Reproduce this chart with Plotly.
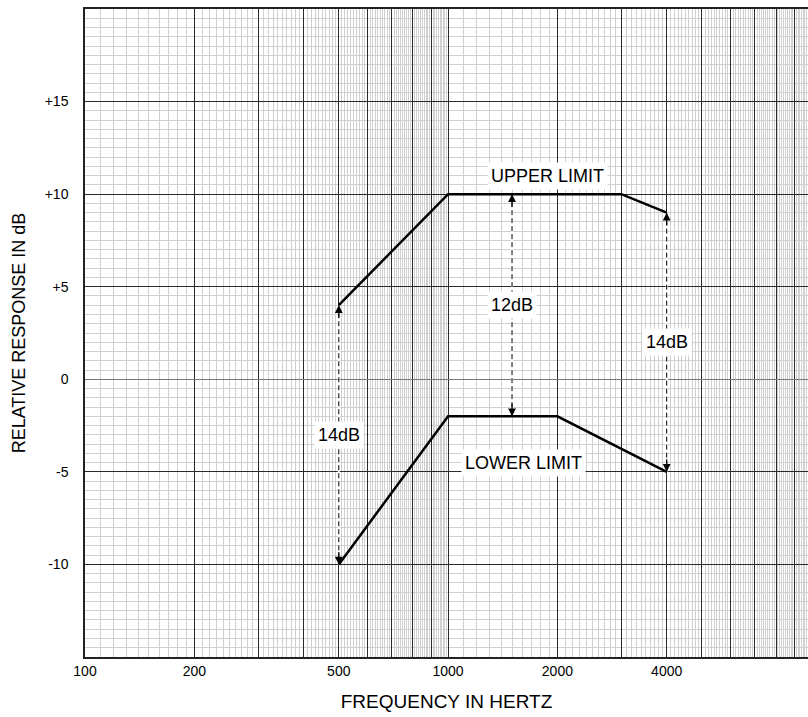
import math
import plotly.graph_objects as go

# ---- data ----
upper_freq = [500, 1000, 3000, 4000]
upper_db = [4, 10, 10, 9]
lower_freq = [500, 1000, 2000, 4000]
lower_db = [-10, -2, -2, -5]

# tolerance spans (freq, top, bottom, label, label_y)
span_freq = [500, 1500, 4000]
span_top = [4, 10, 9]
span_bottom = [-10, -2, -5]
span_label = ["14dB", "12dB", "14dB"]
span_label_y = [-3, 4, 2]

limit_labels = ["UPPER LIMIT", "LOWER LIMIT"]
limit_label_freq = [1875, 1610]
limit_label_db = [11, -4.5]

x_tick_vals = [100, 200, 300, 400, 500, 600, 700, 800, 900,
               1000, 2000, 3000, 4000, 5000, 6000, 7000, 8000, 9000]
x_tick_text = ["100", "200", "", "", "500", "", "", "", "",
               "1000", "2000", "", "4000", "", "", "", "", ""]
y_tick_vals = [-15, -10, -5, 0, 5, 10, 15, 20]
y_tick_text = ["", "-10", "-5", "0", "+5", "+10", "+15", ""]

# minor grid: ten subdivisions of each major interval, half-dB steps
x_minor = [m * d / 10 for d in (100, 1000) for m in range(10, 100) if m % 10 != 0]
y_minor = [v / 2 for v in range(-30, 41) if v % 10 != 0]

FONT = "Liberation Sans, Arial, sans-serif"
fig = go.Figure()

# dashed span lines (white underlay to break the grid line)
for f, t, b in zip(span_freq, span_top, span_bottom):
    fig.add_trace(go.Scatter(x=[f, f], y=[t, b], mode="lines",
                             line=dict(color="white", width=2),
                             hoverinfo="skip", showlegend=False))
    fig.add_trace(go.Scatter(x=[f, f], y=[t, b], mode="lines",
                             line=dict(color="black", width=1, dash="5px,3px"),
                             hoverinfo="skip", showlegend=False))

fig.add_trace(go.Scatter(x=upper_freq, y=upper_db, mode="lines",
                         line=dict(color="black", width=2.5), showlegend=False))
fig.add_trace(go.Scatter(x=lower_freq, y=lower_db, mode="lines",
                         line=dict(color="black", width=2.5), showlegend=False))

# arrowheads (annotation x on a log axis is log10 of the value)
for f, t, b in zip(span_freq, span_top, span_bottom):
    fig.add_annotation(x=math.log10(f), y=t, ax=0, ay=14, showarrow=True, arrowhead=2,
                       arrowsize=1.3, arrowwidth=1.2, arrowcolor="black", text="")
    fig.add_annotation(x=math.log10(f), y=b, ax=0, ay=-14, showarrow=True, arrowhead=2,
                       arrowsize=1.3, arrowwidth=1.2, arrowcolor="black", text="")

for f, lab, ly in zip(span_freq, span_label, span_label_y):
    fig.add_annotation(x=math.log10(f), y=ly, text=lab, showarrow=False, bgcolor="white",
                       font=dict(family=FONT, size=18, color="black"), borderpad=3)

for lab, f, v in zip(limit_labels, limit_label_freq, limit_label_db):
    fig.add_annotation(x=math.log10(f), y=v, text=lab, showarrow=False, bgcolor="white",
                       font=dict(family=FONT, size=18, color="black"), borderpad=3)

fig.update_xaxes(type="log", range=[2, math.log10(9800)],
                 tickmode="array", tickvals=x_tick_vals, ticktext=x_tick_text,
                 showgrid=True, gridcolor="#2a2a2a", gridwidth=1.3,
                 minor=dict(tickmode="array", tickvals=x_minor, showgrid=True,
                            gridcolor="#d0d0d0", gridwidth=1, ticks=""),
                 ticks="", showline=True, linecolor="#222", linewidth=1.5, mirror=True,
                 tickfont=dict(family=FONT, size=14, color="black"),
                 ticklabelstandoff=0,
                 title=dict(text="FREQUENCY IN HERTZ", standoff=17,
                            font=dict(family=FONT, size=19, color="black")),
                 zeroline=False)
fig.update_yaxes(range=[-15, 20], tickmode="array", tickvals=y_tick_vals, ticktext=y_tick_text,
                 showgrid=True, gridcolor="#2a2a2a", gridwidth=1.3,
                 minor=dict(tickmode="array", tickvals=y_minor, showgrid=True,
                            gridcolor="#d0d0d0", gridwidth=1, ticks=""),
                 ticks="", showline=True, linecolor="#222", linewidth=1.5, mirror=True,
                 zeroline=True, zerolinecolor="#777", zerolinewidth=1.3,
                 tickfont=dict(family=FONT, size=14, color="black"),
                 ticklabelstandoff=12,
                 title=dict(text="RELATIVE RESPONSE IN dB", standoff=14,
                            font=dict(family=FONT, size=18, color="black")))

fig.update_layout(width=808, height=717, plot_bgcolor="white", paper_bgcolor="white",
                  margin=dict(l=85, r=0, t=9, b=60, autoexpand=False), showlegend=False)

fig.write_html("out.html", config={"displayModeBar": False},
               post_script="document.body.style.margin='0';document.body.style.overflow='hidden';")
